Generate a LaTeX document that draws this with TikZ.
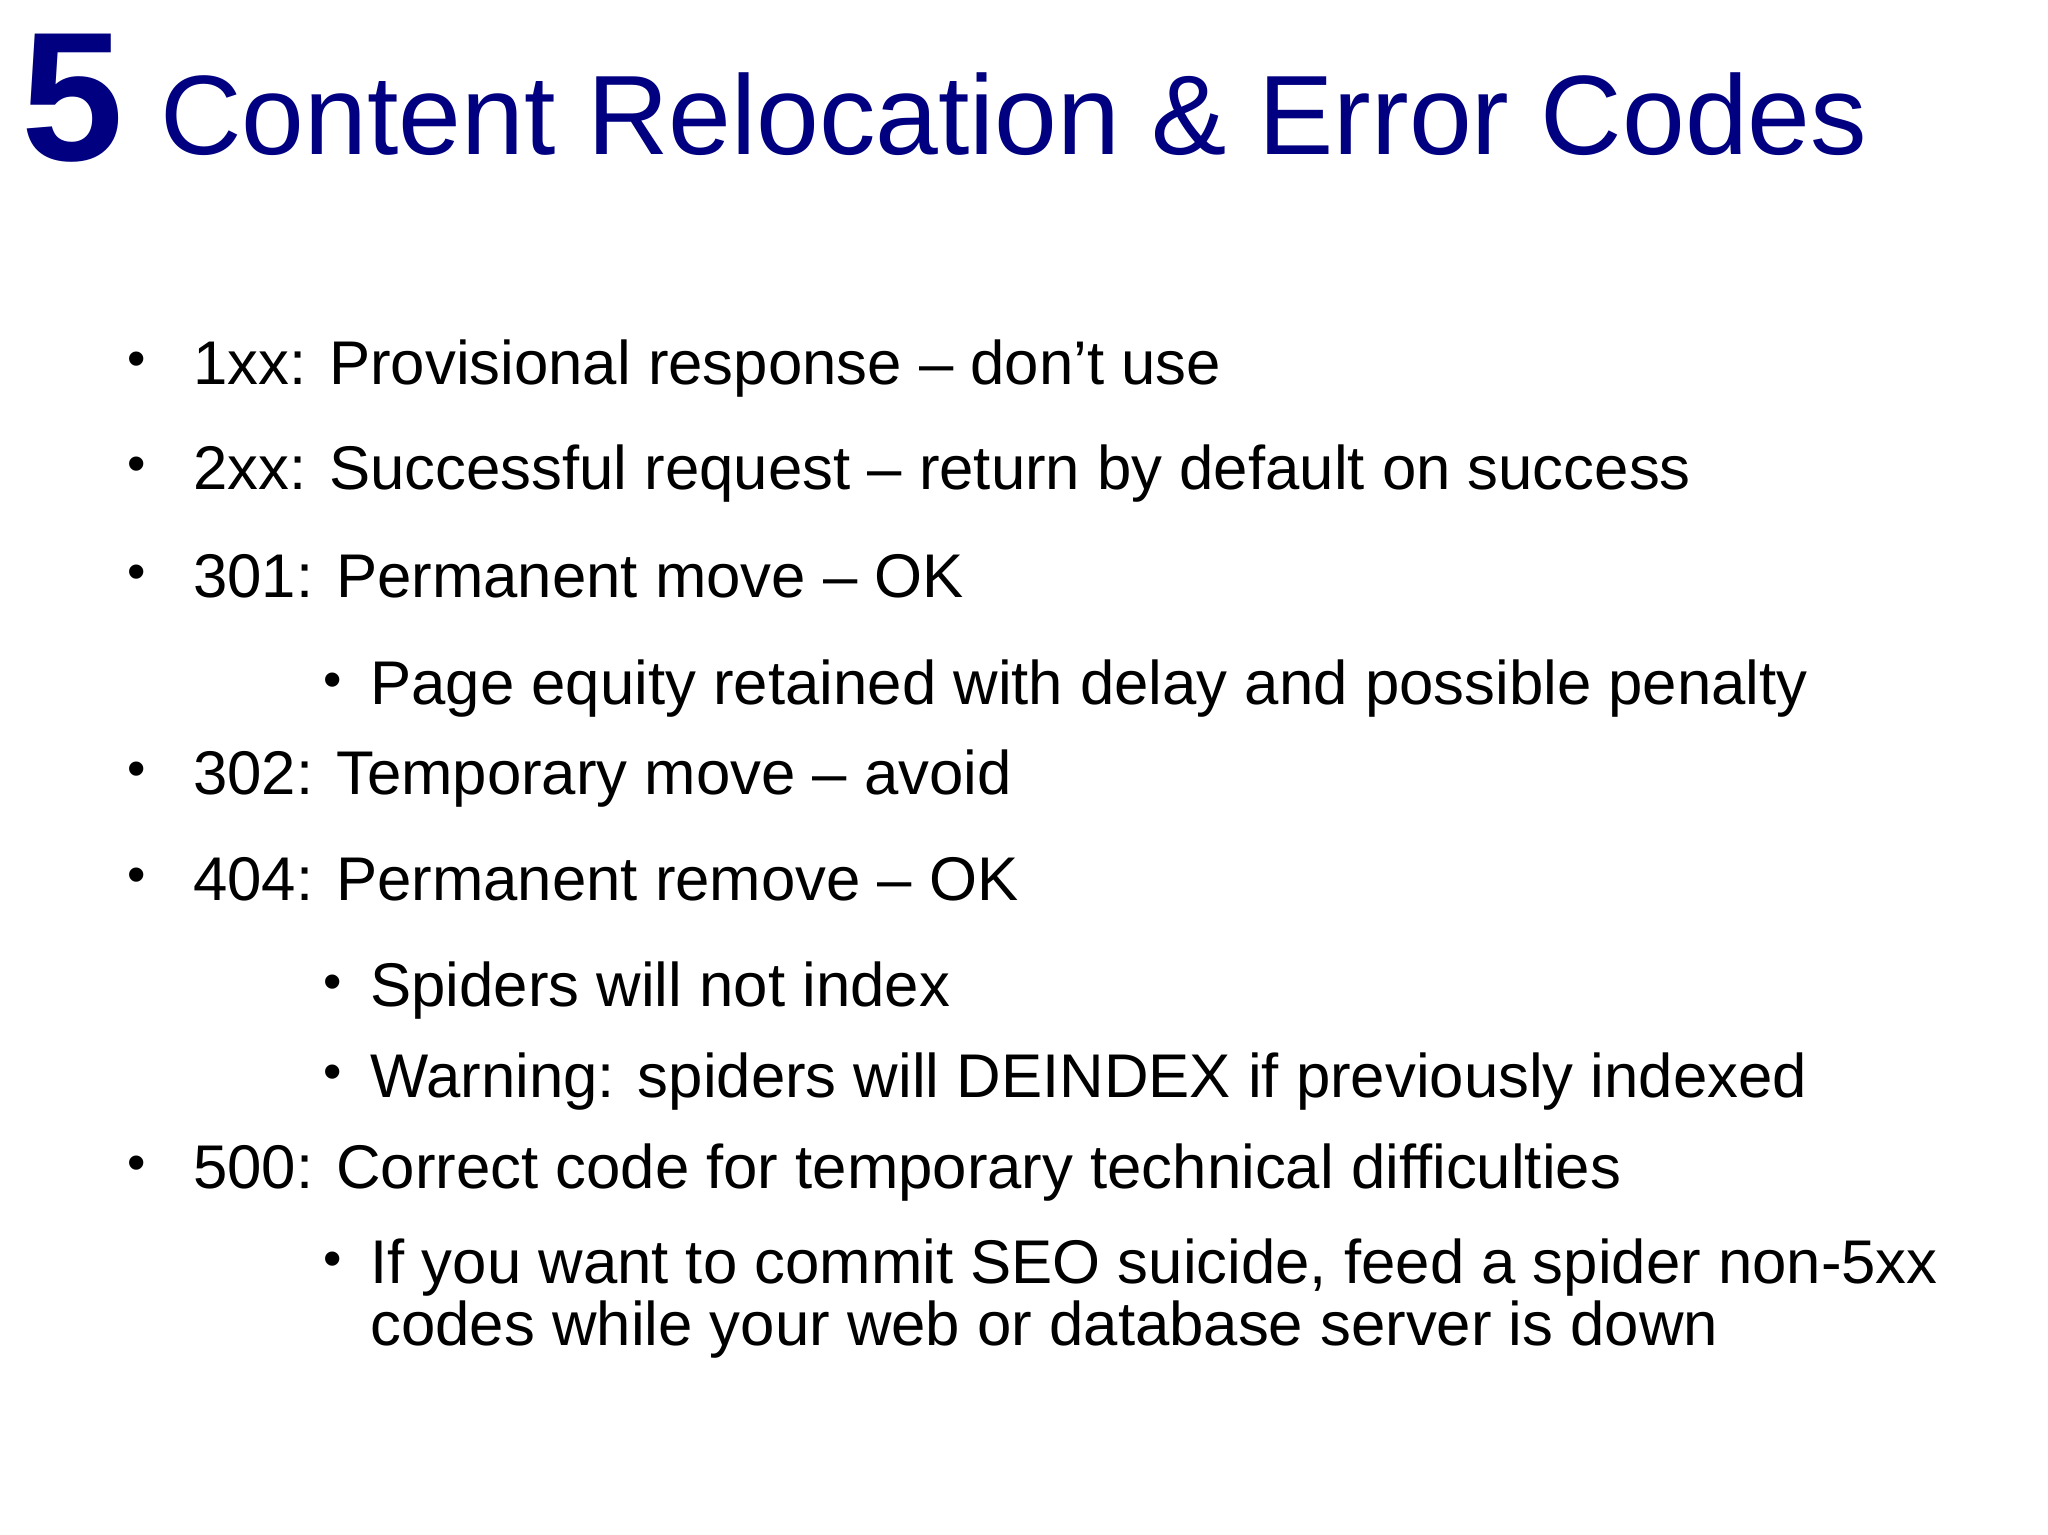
\documentclass[tikz,border=0pt]{standalone}
\usepackage{fontspec}
\setmainfont{Liberation Sans}
\definecolor{titleblue}{RGB}{0,0,128}
\begin{document}
\begin{tikzpicture}[x=1pt,y=-1pt,
  body/.style={anchor=base west,inner sep=0,font=\fontsize{47}{56}\selectfont,text=black},
  dot/.style={anchor=base west,inner sep=0,font=\fontsize{40}{48}\selectfont,text=black}]
\fill[white] (0,0) rectangle (1560,1169);
\useasboundingbox (0,0) rectangle (1560,1169);
\node[anchor=base west,inner sep=0,text=titleblue,font=\fontsize{140}{140}\selectfont\bfseries] (n5) at (16,122) {5};
\node[anchor=base west,inner sep=0,text=titleblue,font=\fontsize{86}{90}\selectfont] (title) at (122,118) {Content Relocation \& Error Codes};
\foreach \y/\t [count=\i] in {
 293/{1xx: Provisional response – don't use},
 373/{2xx: Successful request – return by default on success},
 455/{301: Permanent move – OK},
 605/{302: Temporary move – avoid},
 686/{404: Permanent remove – OK},
 905/{500: Correct code for temporary technical difficulties}}{
  \node[dot] (b\i) at (97,\y-6) {•};
  \node[body] (m\i) at (147,\y) {\t};
}
\foreach \y/\t [count=\i] in {
 537/{Page equity retained with delay and possible penalty},
 767/{Spiders will not index},
 836/{Warning: spiders will DEINDEX if previously indexed},
 978/{If you want to commit SEO suicide, feed a spider non-5xx}}{
  \node[dot] (sb\i) at (246,\y-6) {•};
  \node[body] (s\i) at (282,\y) {\t};
}
\node[body] (s5) at (282,1025) {codes while your web or database server is down};
\end{tikzpicture}
\end{document}
